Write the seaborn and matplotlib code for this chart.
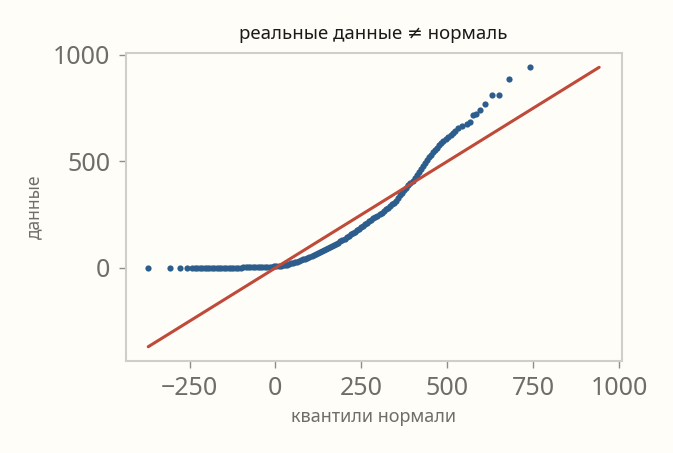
import matplotlib.pyplot as plt
import pandas as pd
import seaborn as sns

# теоретические квантили нормали (ось x) и упорядоченные данные (ось y)
quantiles = [
    -370, -308, -277, -257, -243, -235, -228, -220, -213, -206, -199, -192,
    -185, -178, -171, -164, -157, -150, -143, -136, -129, -122, -115, -108,
    -101, -94, -87, -80, -73, -66, -59, -52, -45, -38, -31, -24, -17, -10,
    -3, 3, 9, 15, 21, 27, 33, 39, 45, 51, 57, 63, 69, 75, 81, 87, 93, 99,
    105, 111, 117, 123, 129, 135, 141, 147, 153, 159, 165, 171, 177, 183,
    189, 195, 201, 207, 213, 219, 225, 231, 237, 243, 249, 255, 261, 267,
    273, 279, 285, 291, 297, 303, 309, 315, 321, 327, 333, 339, 345, 351,
    357, 363, 369, 375, 381, 387, 393, 399, 405, 411, 417, 423, 429, 435,
    441, 447, 453, 459, 465, 471, 477, 483, 489, 496, 503, 510, 516, 522,
    531, 544, 558, 565, 576, 584, 596, 611, 629, 650, 680, 740,
]
values = [
    0, 0, 0, 0, 0, 0, 0, 0, 0, 0, 0, 0,
    0, 0, 0, 0, 1, 1, 1, 1, 1, 1, 1, 1,
    1, 2, 2, 2, 2, 2, 3, 3, 3, 4, 4, 5, 5, 6,
    7, 8, 9, 11, 12, 14, 16, 18, 21, 24, 27, 30, 33, 36, 40, 44, 48, 52,
    56, 61, 65, 70, 76, 80, 85, 90, 95, 99, 103, 107, 112, 117,
    124, 130, 137, 144, 151, 157, 163, 170, 177, 183, 190, 197, 204, 211,
    218, 225, 232, 239, 246, 253, 260, 268, 276, 283, 290, 298, 306, 316,
    328, 340, 353, 365, 377, 389, 400, 410, 422, 437, 452, 463, 477, 492,
    507, 520, 532, 543, 553, 565, 575, 585, 594, 605, 614, 623, 634, 645,
    657, 665, 678, 684, 718, 725, 741, 770, 810, 810, 885, 942,
]
x_ticks = [-250, 0, 250, 500, 750, 1000]
y_ticks = [0, 500, 1000]

bg = "#FFFDF8"
grey = "#6E6E68"

sns.set_style("white")
plt.rcParams["font.family"] = ["Noto Sans", "DejaVu Sans"]

df = pd.DataFrame({"q": quantiles, "v": values})
lo = min(df["q"].min(), df["v"].min())
hi = max(df["q"].max(), df["v"].max())
line = pd.DataFrame({"q": [lo, hi], "v": [lo, hi]})

fig = plt.figure(figsize=(6.73, 4.53), dpi=100, facecolor=bg)
ax = fig.add_axes([0.1868, 0.2038, 0.737, 0.6785], facecolor=bg)

sns.scatterplot(data=df, x="q", y="v", ax=ax, color="#2C5D8C", s=20, linewidth=0, zorder=2)
sns.lineplot(data=line, x="q", y="v", ax=ax, color="#BF4A3A", linewidth=2.2, zorder=3)

ax.set_xticks(x_ticks)
ax.set_yticks(y_ticks)
ax.tick_params(axis="both", which="major", bottom=True, left=True,
               labelsize=18, labelcolor=grey,
               color="#8E8E88", length=5, width=1, direction="out", pad=6)
for s in ax.spines.values():
    s.set_color("#CFCFC7")
    s.set_linewidth(1.5)

ax.set_title("реальные данные ≠ нормаль", fontsize=13.4, color="#1A1A1A", pad=10)
ax.set_xlabel("квантили нормали", fontsize=13, color=grey, labelpad=5)
ax.set_ylabel("данные", fontsize=12.5, color=grey, labelpad=7)

fig.savefig("out.png", dpi=100, facecolor=bg)
